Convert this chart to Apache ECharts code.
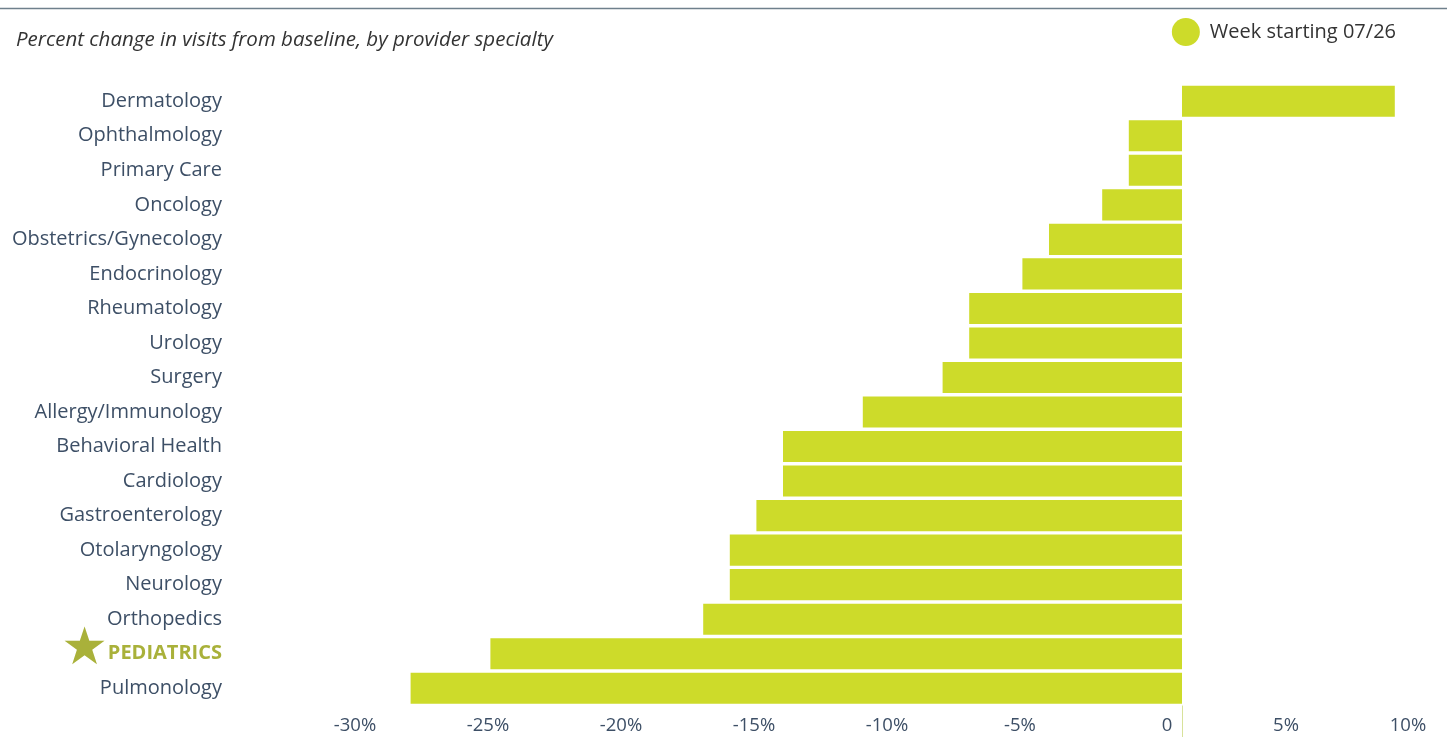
<!DOCTYPE html>
<html>
<head>
<meta charset="utf-8">
<script src="https://cdn.jsdelivr.net/npm/echarts@6/dist/echarts.min.js"></script>
<style>
html,body{margin:0;padding:0;background:#fff;}
#chart{width:1447px;height:737px;}
</style>
</head>
<body>
<div id="chart"></div>
<script>
const categories = ['Dermatology','Ophthalmology','Primary Care','Oncology','Obstetrics/Gynecology','Endocrinology','Rheumatology','Urology','Surgery','Allergy/Immunology','Behavioral Health','Cardiology','Gastroenterology','Otolaryngology','Neurology','Orthopedics','PEDIATRICS','Pulmonology'];
const values = [8,-2,-2,-3,-5,-6,-8,-8,-9,-12,-15,-15,-16,-17,-17,-18,-26,-29];
const xTicks = [-30,-25,-20,-15,-10,-5,0,5,10];
const seriesName = 'Week starting 07/26';
const subtitle = 'Percent change in visits from baseline, by provider specialty';

const BAR = '#cddb2a';
const LABEL = '#3d4f66';
const OLIVE = '#a9b13a';
const FONT = '"Open Sans", "Noto Sans", sans-serif';

const chart = echarts.init(document.getElementById('chart'));
chart.setOption({
  animation: false,
  backgroundColor: '#fff',
  title: {
    text: subtitle,
    left: 11, top: 25,
    textStyle: {fontFamily: FONT, fontSize: 20.5, fontStyle: 'italic', fontWeight: 'normal', color: '#333'}
  },
  legend: {
    right: 46, top: 13,
    icon: 'circle', itemWidth: 28, itemHeight: 28, itemGap: 8,
    data: [seriesName],
    textStyle: {fontFamily: FONT, fontSize: 20, color: '#333', padding: [0, 0, 0, 5]}
  },
  graphic: [{
    type: 'line', shape: {x1: 0, y1: 8.5, x2: 1447, y2: 8.5},
    style: {stroke: '#6f808c', lineWidth: 1.5}, silent: true
  }],
  grid: {left: 384, right: -1, top: 84, bottom: 31.5, outerBoundsMode: 'none', containLabel: false},
  xAxis: {
    type: 'value', min: -30, max: 10, interval: 5,
    splitLine: {show: false},
    axisLine: {show: false},
    axisTick: {show: true, customValues: [0], length: 32, lineStyle: {color: '#d8e29a', width: 1}},
    axisLabel: {
      customValues: xTicks,
      margin: 11,
      fontFamily: FONT, fontSize: 18.5, color: LABEL,
      formatter: function (v) {
        const s = v === 0 ? '0' : v + '%';
        const k = v === 0 ? 'z' : (v === 10 ? 't' : 'n');
        return '{' + k + '|' + s + '}';
      },
      rich: {
        n: {fontFamily: FONT, fontSize: 18.5, color: LABEL, padding: [0, 58, 0, 0]},
        z: {fontFamily: FONT, fontSize: 18.5, color: LABEL, padding: [0, 30, 0, 0]},
        t: {fontFamily: FONT, fontSize: 18.5, color: LABEL, padding: [0, 80, 0, 0]}
      }
    }
  },
  yAxis: {
    type: 'category', data: categories, inverse: true,
    axisLine: {show: false}, axisTick: {show: false},
    axisLabel: {
      margin: 162,
      fontFamily: FONT, fontSize: 20, color: LABEL,
      formatter: function (v) {
        if (v === 'PEDIATRICS') return '{star|★}{ped|' + v + '}';
        return v;
      },
      rich: {
        star: {fontFamily: '"DejaVu Sans", sans-serif', fontSize: 52, color: OLIVE, padding: [0, 0, 6, 0]},
        ped: {fontFamily: FONT, fontSize: 20, fontWeight: 'bold', color: OLIVE}
      }
    }
  },
  series: [{
    name: seriesName, type: 'bar', data: values,
    barCategoryGap: '10%',
    itemStyle: {color: BAR},
    emphasis: {disabled: true}
  }]
});
</script>
</body>
</html>
